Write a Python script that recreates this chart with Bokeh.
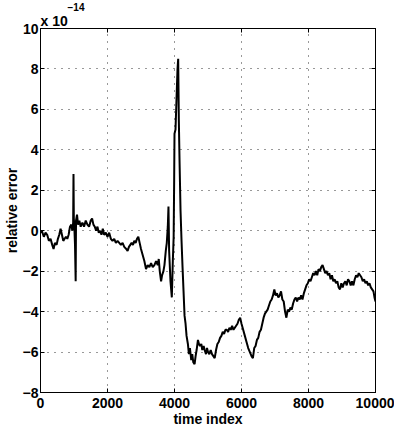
from bokeh.plotting import figure
from bokeh.models import Range1d, LinearAxis, FixedTicker, Title
from bokeh.embed import file_html
from bokeh.resources import INLINE

# ---- data (relative error in units of 1e-14) ----
time_index = [
    0, 40, 100, 150, 200, 250, 300, 350, 390, 430, 480, 520, 560, 600, 640, 680, 720, 760, 800, 840,
    880, 920, 950, 975, 985, 995, 1010, 1030, 1050, 1060, 1090, 1120, 1160, 1200, 1250, 1300, 1350,
    1400, 1450, 1500, 1540, 1580, 1620, 1660, 1700, 1740, 1780, 1820, 1860, 1900, 1950, 2000, 2050,
    2100, 2150, 2200, 2250, 2300, 2350, 2400, 2450, 2500, 2560, 2600, 2640, 2680, 2720, 2760, 2800,
    2840, 2880, 2920, 2960, 3000, 3050, 3100, 3150, 3200, 3250, 3300, 3350, 3400, 3450, 3500, 3530,
    3560, 3600, 3630, 3670, 3700, 3740, 3770, 3800, 3820, 3840, 3880, 3920, 3950, 3975, 3990, 4000,
    4030, 4060, 4090, 4110, 4130, 4150, 4180, 4210, 4240, 4270, 4300, 4330, 4360, 4400, 4430, 4460,
    4500, 4530, 4560, 4600, 4630, 4660, 4700, 4730, 4760, 4800, 4830, 4870, 4900, 4940, 4970, 5000,
    5040, 5080, 5120, 5160, 5200, 5240, 5280, 5320, 5360, 5400, 5440, 5480, 5520, 5560, 5600, 5640,
    5680, 5720, 5760, 5800, 5840, 5880, 5920, 5960, 6000, 6050, 6100, 6150, 6200, 6250, 6300, 6340,
    6380, 6420, 6460, 6500, 6540, 6580, 6620, 6660, 6700, 6740, 6780, 6820, 6860, 6900, 6940, 6980,
    7020, 7060, 7100, 7140, 7180, 7220, 7260, 7300, 7340, 7380, 7420, 7460, 7500, 7540, 7580, 7620,
    7660, 7700, 7740, 7780, 7820, 7860, 7900, 7940, 7980, 8020, 8060, 8100, 8140, 8180, 8220, 8260,
    8300, 8340, 8380, 8420, 8460, 8500, 8540, 8580, 8620, 8660, 8700, 8740, 8780, 8820, 8860, 8900,
    8940, 8980, 9020, 9060, 9100, 9140, 9180, 9220, 9260, 9300, 9340, 9380, 9420, 9460, 9500, 9540,
    9580, 9620, 9660, 9700, 9740, 9780, 9820, 9860, 9900, 9940, 9970, 10000,
]
relative_error = [
    -0.1, 0.0, -0.3, -0.1, -0.2, -0.5, -0.4, -0.7, -0.9, -0.6, -0.7, -0.4, -0.2, 0.1, -0.2, -0.5, -0.4, -0.3, -0.4, -0.2,
    0.2, 0.3, 0.0, 0.4, 2.8, 0.6, 0.2, -0.7, -2.5, 0.5, 0.8, 0.3, 0.5, 0.2, 0.4, 0.2, 0.5,
    0.3, 0.2, 0.5, 0.6, 0.3, 0.2, 0.0, 0.2, -0.1, 0.0, -0.2, 0.1, -0.2, -0.1, -0.3, -0.1,
    -0.4, -0.5, -0.4, -0.6, -0.5, -0.6, -0.7, -0.6, -0.8, -0.9, -1.0, -0.8, -0.7, -0.6, -0.7, -0.5,
    -0.6, -0.4, -0.3, -0.6, -0.9, -1.2, -1.5, -1.9, -1.7, -1.8, -1.6, -1.8, -1.7, -1.5, -1.7, -1.4,
    -2.0, -2.5, -2.2, -2.0, -1.7, -1.0, -0.6, 0.2, 1.2, -1.0, -2.5, -3.3, -1.5, -0.3, 2.5, 4.8,
    5.0, 6.5, 8.0, 8.5, 5.4, 3.5, 1.0, -0.5, -1.8, -3.0, -4.2, -4.6, -5.2, -5.6, -6.1, -5.8,
    -6.4, -6.1, -6.5, -6.6, -6.2, -5.9, -5.4, -5.6, -5.7, -5.6, -5.9, -5.7, -5.9, -6.1, -5.8, -6.0,
    -6.1, -5.9, -6.1, -6.2, -6.3, -5.9, -5.6, -5.5, -5.3, -5.2, -5.0, -5.1, -4.9, -4.9, -5.0, -4.8,
    -4.9, -4.7, -4.9, -4.8, -4.7, -4.6, -4.4, -4.3, -4.6, -4.9, -5.2, -5.5, -5.8, -6.0, -6.2, -6.3,
    -5.8, -5.7, -5.4, -5.3, -5.0, -4.9, -4.6, -4.3, -4.1, -4.0, -3.9, -3.7, -3.5, -3.4, -3.2, -2.9,
    -3.2, -3.1, -3.3, -3.2, -3.0, -3.4, -3.5, -4.0, -4.3, -3.9, -4.0, -3.8, -3.9, -3.6, -3.4, -3.3,
    -3.5, -3.3, -3.4, -3.2, -3.4, -3.1, -2.9, -2.7, -2.6, -2.4, -2.5, -2.3, -2.1, -2.2, -2.0, -2.2,
    -1.9, -2.0, -1.8, -1.7, -1.9, -2.1, -2.0, -2.2, -2.1, -2.4, -2.2, -2.5, -2.4, -2.6, -2.5, -2.8,
    -2.9, -2.6, -2.8, -2.6, -2.5, -2.7, -2.4, -2.5, -2.7, -2.5, -2.7, -2.4, -2.2, -2.3, -2.1, -2.2,
    -2.3, -2.5, -2.4, -2.6, -2.5, -2.7, -2.6, -2.8, -2.9, -3.0, -3.3, -3.5,
]

x_ticks = [0, 2000, 4000, 6000, 8000, 10000]
x_tick_labels = ["0", "2000", "4000", "6000", "8000", "10000"]
y_ticks = [-8, -6, -4, -2, 0, 2, 4, 6, 8, 10]
y_tick_labels = ["\u22128", "\u22126", "\u22124", "\u22122", "0", "2", "4", "6", "8", "10"]
x_label = "time index"
y_label = "relative error"
scale_base = "x 10"
scale_exponent = "\u221214"

FONT = "Liberation Sans"

p = figure(
    width=394, height=431,
    output_backend="svg", toolbar_location=None,
    x_range=Range1d(0, 10000), y_range=Range1d(-8, 10),
    min_border_left=38, min_border_right=19, min_border_top=28, min_border_bottom=39,
    background_fill_color="white", border_fill_color="white",
)
p.title.text = ""
p.title.standoff = 0
p.title.text_font_size = "0px"
p.outline_line_color = "black"
p.outline_line_width = 1

p.line(time_index, relative_error, line_color="black", line_width=2)

for ax in (p.xaxis[0], p.yaxis[0]):
    ax.axis_line_color = "black"
    ax.major_tick_line_color = "black"
    ax.major_tick_in = 4
    ax.major_tick_out = 0
    ax.minor_tick_line_color = None
    ax.major_label_text_font = FONT
    ax.major_label_text_font_size = "14px"
    ax.major_label_text_font_style = "bold"
    ax.major_label_text_color = "black"
    ax.axis_label_text_font = FONT
    ax.axis_label_text_font_size = "14px"
    ax.axis_label_text_font_style = "bold"
    ax.axis_label_text_color = "black"

p.xaxis[0].ticker = FixedTicker(ticks=x_ticks)
p.xaxis[0].major_label_overrides = dict(zip(x_ticks, x_tick_labels))
p.xaxis[0].axis_label = x_label
p.xaxis[0].major_label_standoff = 5
p.xaxis[0].axis_label_standoff = 0

p.yaxis[0].ticker = FixedTicker(ticks=y_ticks)
p.yaxis[0].major_label_overrides = dict(zip(y_ticks, y_tick_labels))
p.yaxis[0].axis_label = y_label
p.yaxis[0].major_label_standoff = 2
p.yaxis[0].axis_label_standoff = 0

top_axis = LinearAxis(ticker=FixedTicker(ticks=x_ticks), major_label_text_font_size="1px",
                      major_label_text_color=None, major_label_standoff=0,
                      major_tick_in=4, major_tick_out=0,
                      minor_tick_line_color=None, axis_line_color="black")
right_axis = LinearAxis(ticker=FixedTicker(ticks=y_ticks), major_label_text_font_size="1px",
                        major_label_text_color=None, major_label_standoff=0,
                        major_tick_in=4, major_tick_out=0,
                        minor_tick_line_color=None, axis_line_color="black")
p.add_layout(top_axis, "above")
p.add_layout(right_axis, "right")

for g in (p.xgrid[0], p.ygrid[0]):
    g.grid_line_color = "#333333"
    g.grid_line_dash = "1 6"
    g.grid_line_width = 1
p.xgrid[0].ticker = FixedTicker(ticks=x_ticks)
p.ygrid[0].ticker = FixedTicker(ticks=y_ticks)

p.add_layout(Title(text=scale_base, align="left", offset=0, standoff=0,
                   text_font=FONT, text_font_size="14px", text_font_style="bold",
                   text_color="black", text_line_height=0.85), "above")
p.add_layout(Title(text=scale_exponent, align="left", offset=27, standoff=0,
                   text_font=FONT, text_font_size="10px", text_font_style="bold",
                   text_color="black", text_line_height=0.7), "above")

open("out.html", "w").write(file_html(p, INLINE))
